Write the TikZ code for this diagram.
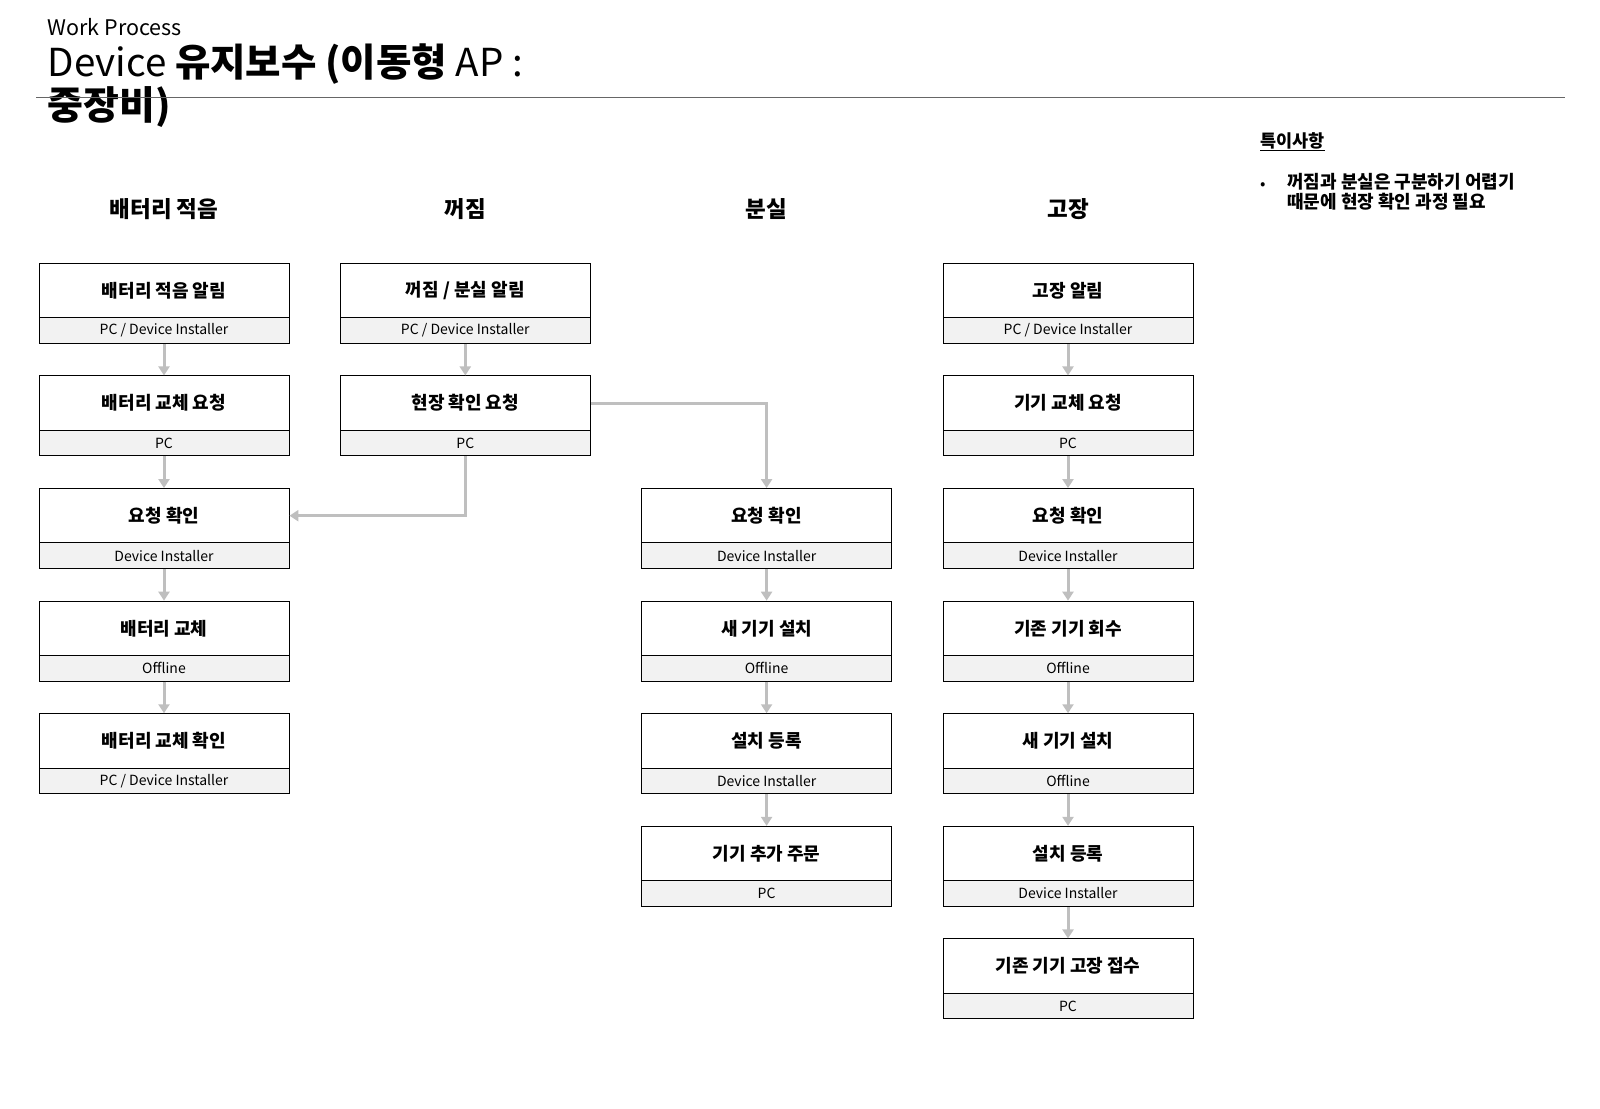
\documentclass[tikz,border=0pt]{standalone}
\usepackage{fontspec}
\setmainfont{Noto Sans CJK KR}
\usetikzlibrary{arrows.meta}
\definecolor{subfill}{HTML}{F2F2F2}
\definecolor{conn}{HTML}{BFBFBF}
\tikzset{
  boxtop/.style={draw=black, line width=0.9pt, fill=white, minimum width=250pt, minimum height=54.4pt, inner sep=0pt, font=\fontsize{18}{20}\selectfont\bfseries},
  boxsub/.style={draw=black, line width=0.9pt, fill=subfill, minimum width=250pt, minimum height=25.6pt, inner sep=0pt, font=\fontsize{14}{16}\selectfont},
  colhead/.style={font=\fontsize{22.5}{26}\selectfont\bfseries},
  flow/.style={draw=conn, line width=3pt, -{Triangle[length=9pt,width=11pt]}},
}
\newcommand\procbox[5]{%
  \node[boxtop] (#1) at (#2,#3+27.2) {#4};
  \node[boxsub] (#1s) at (#2,#3+67.2) {\raisebox{-0.8pt}{#5}};
}
\begin{document}
\begin{tikzpicture}[x=1pt,y=-1pt]
\useasboundingbox (0,0) rectangle (1600,1108);
% title
\node[anchor=base west, inner sep=0pt, font=\fontsize{21.5}{24}\selectfont] (wp) at (47.5,35.5) {Work Process};
\node[anchor=base west, inner sep=0pt, font=\fontsize{38.5}{42}\selectfont] (t1) at (47.5,77) {Device \textbf{유지보수 (이동형} AP :};
\node[anchor=base west, inner sep=0pt, font=\fontsize{39}{42}\selectfont\bfseries] (t2) at (47.5,119.5) {중장비)};
\coordinate (hl) at (36,97.7);
\coordinate (hr) at (1565,97.7);
\draw[line width=0.7pt, black!60] (hl) -- (hr);
% notes
\node[anchor=base west, inner sep=0pt, font=\fontsize{17.5}{19}\selectfont\bfseries] (nh) at (1260,147.5) {\underline{특이사항}};
\node[anchor=base west, inner sep=0pt, font=\fontsize{16}{18}\selectfont] (nb) at (1260,189.5) {•};
\node[anchor=north west, inner sep=0pt, align=left, font=\fontsize{18}{19.5}\selectfont\bfseries] (nt) at (1287,173.5) {꺼짐과 분실은 구분하기 어렵기\\때문에 현장 확인 과정 필요};
% column headers
\node[colhead] (h1) at (164,209) {배터리 적음};
\node[colhead] (h2) at (465.3,209) {꺼짐};
\node[colhead] (h3) at (766.6,209) {분실};
\node[colhead] (h4) at (1068,209) {고장};
% column 1
\procbox{a1}{164}{263.3}{배터리 적음 알림}{PC / Device Installer}
\procbox{a2}{164}{375.9}{배터리 교체 요청}{PC}
\procbox{a3}{164}{488.5}{요청 확인}{Device Installer}
\procbox{a4}{164}{601.1}{배터리 교체}{Offline}
\procbox{a5}{164}{713.7}{배터리 교체 확인}{PC / Device Installer}
% column 2
\procbox{b1}{465.3}{263.3}{꺼짐 / 분실 알림}{PC / Device Installer}
\procbox{b2}{465.3}{375.9}{현장 확인 요청}{PC}
% column 3
\procbox{c3}{766.6}{488.5}{요청 확인}{Device Installer}
\procbox{c4}{766.6}{601.1}{새 기기 설치}{Offline}
\procbox{c5}{766.6}{713.7}{설치 등록}{Device Installer}
\procbox{c6}{766.6}{826.3}{기기 추가 주문}{PC}
% column 4
\procbox{d1}{1068}{263.3}{고장 알림}{PC / Device Installer}
\procbox{d2}{1068}{375.9}{기기 교체 요청}{PC}
\procbox{d3}{1068}{488.5}{요청 확인}{Device Installer}
\procbox{d4}{1068}{601.1}{기존 기기 회수}{Offline}
\procbox{d5}{1068}{713.7}{새 기기 설치}{Offline}
\procbox{d6}{1068}{826.3}{설치 등록}{Device Installer}
\procbox{d7}{1068}{938.9}{기존 기기 고장 접수}{PC}
% connectors
\draw[flow] (a1s.south) -- (a2.north);
\draw[flow] (a2s.south) -- (a3.north);
\draw[flow] (a3s.south) -- (a4.north);
\draw[flow] (a4s.south) -- (a5.north);
\draw[flow] (b1s.south) -- (b2.north);
\draw[flow] (b2s.south) |- (a3.east);
\draw[flow] (b2.east) -| (c3.north);
\draw[flow] (c3s.south) -- (c4.north);
\draw[flow] (c4s.south) -- (c5.north);
\draw[flow] (c5s.south) -- (c6.north);
\draw[flow] (d1s.south) -- (d2.north);
\draw[flow] (d2s.south) -- (d3.north);
\draw[flow] (d3s.south) -- (d4.north);
\draw[flow] (d4s.south) -- (d5.north);
\draw[flow] (d5s.south) -- (d6.north);
\draw[flow] (d6s.south) -- (d7.north);
\end{tikzpicture}
\end{document}
